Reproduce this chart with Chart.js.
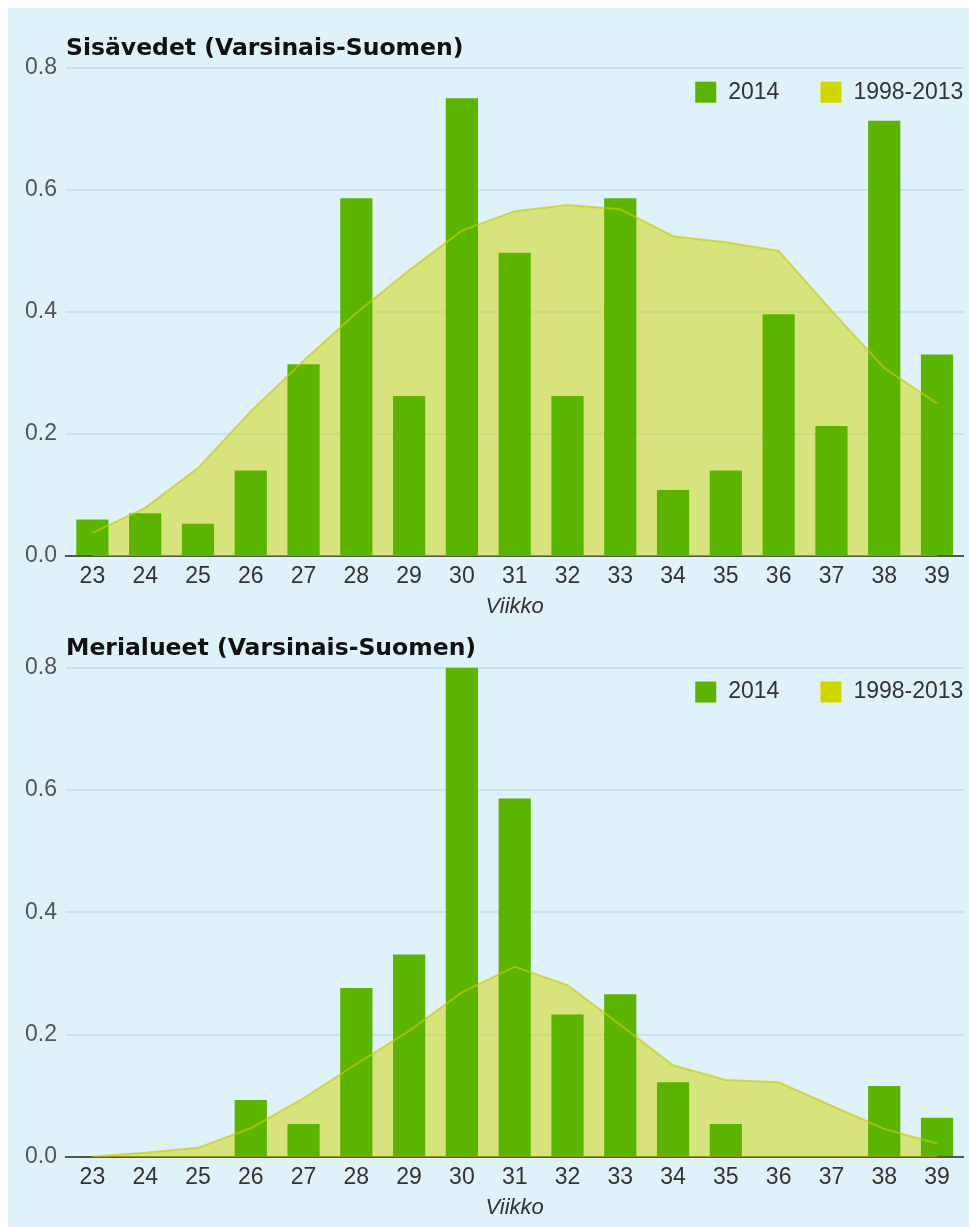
<!DOCTYPE html>
<html>
<head>
<meta charset="utf-8">
<script src="https://cdn.jsdelivr.net/npm/chart.js@4.4.1/dist/chart.umd.min.js"></script>
<style>
  html, body { margin: 0; padding: 0; background: #ffffff; }
  #wrap { position: absolute; left: 8px; top: 8px; width: 961px; height: 1219px; background: #dff1f9; overflow: hidden; }
  canvas { display: block; }
</style>
</head>
<body>
<div id="wrap">
  <canvas id="c1" width="961" height="614"></canvas>
  <canvas id="c2" width="961" height="605"></canvas>
</div>
<script>
// ---- data ----
const weeks = ['23','24','25','26','27','28','29','30','31','32','33','34','35','36','37','38','39'];
const seriesNames = ['2014', '1998-2013'];
const yTickValues = [0, 0.2, 0.4, 0.6, 0.8];
const titleInland = 'Sisävedet (Varsinais-Suomen)';
const titleSea = 'Merialueet (Varsinais-Suomen)';
const xAxisTitle = 'Viikko';

const inland2014 = [0.06, 0.07, 0.053, 0.14, 0.314, 0.586, 0.262, 0.75, 0.497, 0.262, 0.586, 0.108, 0.14, 0.396, 0.213, 0.713, 0.33];
const inlandAvg  = [0.038, 0.079, 0.144, 0.237, 0.32, 0.398, 0.468, 0.533, 0.565, 0.575, 0.568, 0.524, 0.514, 0.5, 0.402, 0.308, 0.25];
const sea2014    = [0, 0, 0, 0.093, 0.054, 0.276, 0.331, 0.8, 0.586, 0.233, 0.266, 0.122, 0.054, 0, 0, 0.116, 0.064];
const seaAvg     = [0.001, 0.007, 0.015, 0.047, 0.096, 0.152, 0.206, 0.269, 0.311, 0.281, 0.216, 0.15, 0.126, 0.122, 0.084, 0.046, 0.022];

// ---- styles ----
const BAR = '#5bb400';
const SWATCH_AVG = '#d2d600';
const AREA_FILL = 'rgba(207,214,0,0.5)';
const AREA_LINE = 'rgba(196,204,0,0.65)';
const GRID = '#c6e5f4';
const SANS = '"Liberation Sans", Arial, sans-serif';

const cornerLegend = {
  id: 'cornerLegend',
  afterDraw(chart) {
    const {ctx, chartArea} = chart;
    ctx.save();
    ctx.font = '23px ' + SANS;
    ctx.textBaseline = 'middle';
    ctx.textAlign = 'left';
    const box = 21, gap = 12, itemGap = 41;
    const cy = chartArea.top + 24.5;
    let x = chartArea.right;
    const items = chart.data.datasets.map(d => ({text: d.label, color: d.swatch}));
    for (let i = items.length - 1; i >= 0; i--) {
      const w = ctx.measureText(items[i].text).width;
      const tx = x - w;
      ctx.fillStyle = '#333';
      ctx.fillText(items[i].text, tx, cy);
      const bx = tx - gap - box;
      ctx.fillStyle = items[i].color;
      ctx.fillRect(bx, cy - box / 2, box, box);
      x = bx - itemGap;
    }
    ctx.restore();
  }
};

function makeChart(id, title, bars, avg, titlePad, layoutPad) {
  return new Chart(document.getElementById(id), {
    type: 'bar',
    data: {
      labels: weeks,
      datasets: [
        {
          type: 'bar',
          label: seriesNames[0],
          data: bars,
          backgroundColor: BAR,
          swatch: BAR,
          borderWidth: 0,
          barPercentage: 0.61,
          categoryPercentage: 1.0,
          order: 2
        },
        {
          type: 'line',
          label: seriesNames[1],
          data: avg,
          fill: 'origin',
          backgroundColor: AREA_FILL,
          borderColor: AREA_LINE,
          borderWidth: 2,
          swatch: SWATCH_AVG,
          pointRadius: 0,
          tension: 0,
          order: 1
        }
      ]
    },
    options: {
      responsive: false,
      animation: false,
      layout: { padding: layoutPad },
      plugins: {
        legend: { display: false },
        tooltip: { enabled: false },
        filler: { drawTime: 'beforeDatasetsDraw' },
        title: {
          display: true,
          text: title,
          align: 'start',
          fullSize: false,
          color: '#111',
          font: { family: '"DejaVu Sans", Verdana, sans-serif', size: 23.5, weight: 'bold' },
          padding: titlePad
        }
      },
      scales: {
        x: {
          offset: true,
          afterFit: (scale) => { scale.height = 66; },
          grid: { display: false, drawTicks: false },
          border: { display: true, color: '#555', width: 2 },
          ticks: { color: '#333', padding: 7, font: { family: SANS, size: 23 }, maxRotation: 0, autoSkip: false },
          title: {
            display: true,
            text: xAxisTitle,
            color: '#333',
            padding: { top: 0, bottom: 2 },
            font: { family: SANS, size: 22, style: 'italic' }
          }
        },
        y: {
          min: 0,
          max: 0.8,
          afterBuildTicks: (scale) => { scale.ticks = yTickValues.map(v => ({ value: v })); },
          afterFit: (scale) => { scale.width = 58; },
          grid: { color: GRID, lineWidth: 2, drawTicks: false },
          border: { display: false },
          ticks: {
            color: '#555',
            padding: 9,
            font: { family: SANS, size: 23 },
            callback: (v) => Number(v).toFixed(1)
          }
        }
      }
    },
    plugins: [cornerLegend]
  });
}

makeChart('c1', titleInland, inland2014, inlandAvg, { top: 26.5, bottom: 5 }, { left: 0, right: 5.6, top: 0, bottom: 0 });
makeChart('c2', titleSea, sea2014, seaAvg, { top: 12.5, bottom: 4.8 }, { left: 0, right: 5.6, top: 0, bottom: 4 });
</script>
</body>
</html>
